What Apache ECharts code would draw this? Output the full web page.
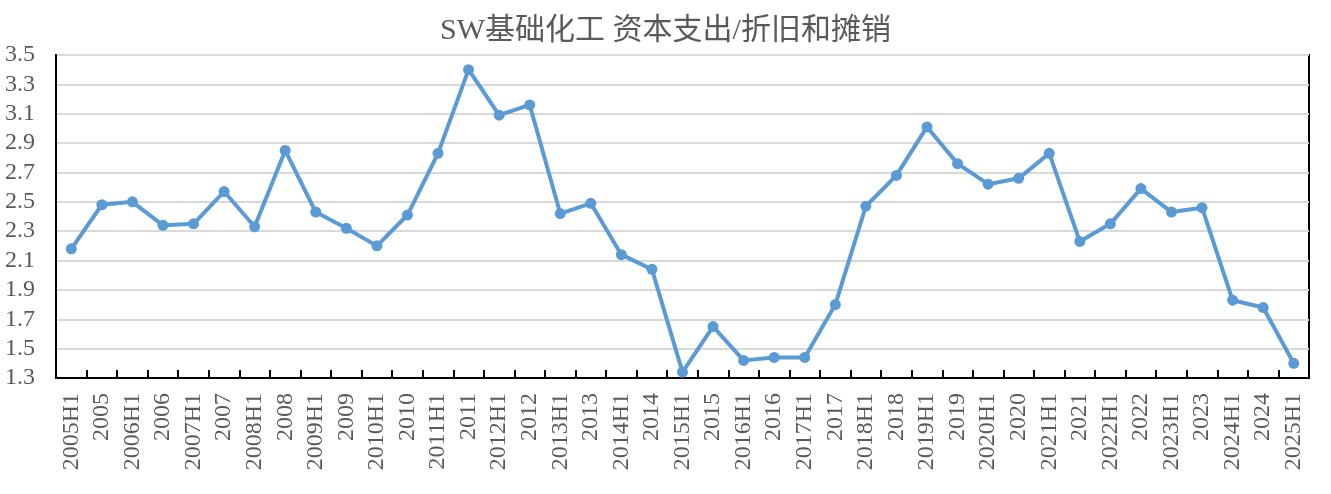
<!DOCTYPE html>
<html>
<head>
<meta charset="utf-8">
<script src="https://cdn.jsdelivr.net/npm/echarts@6/dist/echarts.min.js"></script>
<style>html,body{margin:0;padding:0;background:#fff;}#c{width:1331px;height:494px;}</style>
</head>
<body>
<div id="c"></div>
<script>
const titleText = 'SW基础化工 资本支出/折旧和摊销';
const categories = ['2005H1','2005','2006H1','2006','2007H1','2007','2008H1','2008','2009H1','2009','2010H1','2010','2011H1','2011','2012H1','2012','2013H1','2013','2014H1','2014','2015H1','2015','2016H1','2016','2017H1','2017','2018H1','2018','2019H1','2019','2020H1','2020','2021H1','2021','2022H1','2022','2023H1','2023','2024H1','2024','2025H1'];
const values = [2.18,2.48,2.50,2.34,2.35,2.57,2.33,2.85,2.43,2.32,2.20,2.41,2.83,3.40,3.09,3.16,2.42,2.49,2.14,2.04,1.34,1.65,1.42,1.44,1.44,1.80,2.47,2.68,3.01,2.76,2.62,2.66,2.83,2.23,2.35,2.59,2.43,2.46,1.83,1.78,1.40];
const yMin = 1.3, yMax = 3.5, yStep = 0.2;

const serif = '"Liberation Serif", "Times New Roman", "Noto Sans CJK SC", serif';
const chart = echarts.init(document.getElementById('c'), null, {renderer: 'canvas'});
chart.setOption({
  animation: false,
  backgroundColor: '#ffffff',
  title: {
    text: titleText,
    left: 'center',
    top: 11,
    textStyle: {fontFamily: serif, fontSize: 30, fontWeight: 'normal', color: '#595959'}
  },
  grid: {
    left: 56, right: 22, top: 55, bottom: 116,
    show: true, borderColor: '#000', borderWidth: 2, backgroundColor: 'transparent'
  },
  xAxis: {
    type: 'category',
    data: categories,
    boundaryGap: true,
    axisLine: {lineStyle: {color: '#000', width: 2}},
    axisTick: {show: true, inside: true, length: 8, alignWithLabel: false, lineStyle: {color: '#000', width: 2}},
    axisLabel: {rotate: 90, interval: 0, margin: 15, fontFamily: serif, fontSize: 24, color: '#595959'},
    splitLine: {show: false}
  },
  yAxis: {
    type: 'value',
    min: yMin, max: yMax, interval: yStep,
    axisLine: {show: true, lineStyle: {color: '#000', width: 2}},
    axisTick: {show: false},
    axisLabel: {margin: 21, fontFamily: serif, fontSize: 24, color: '#595959', formatter: v => v.toFixed(1)},
    splitLine: {show: true, lineStyle: {color: '#D9D9D9', width: 2}}
  },
  series: [{
    type: 'line',
    data: values,
    symbol: 'circle',
    symbolSize: 11,
    lineStyle: {color: '#5B9BD5', width: 4},
    itemStyle: {color: '#5B9BD5'}
  }]
});
</script>
</body>
</html>
